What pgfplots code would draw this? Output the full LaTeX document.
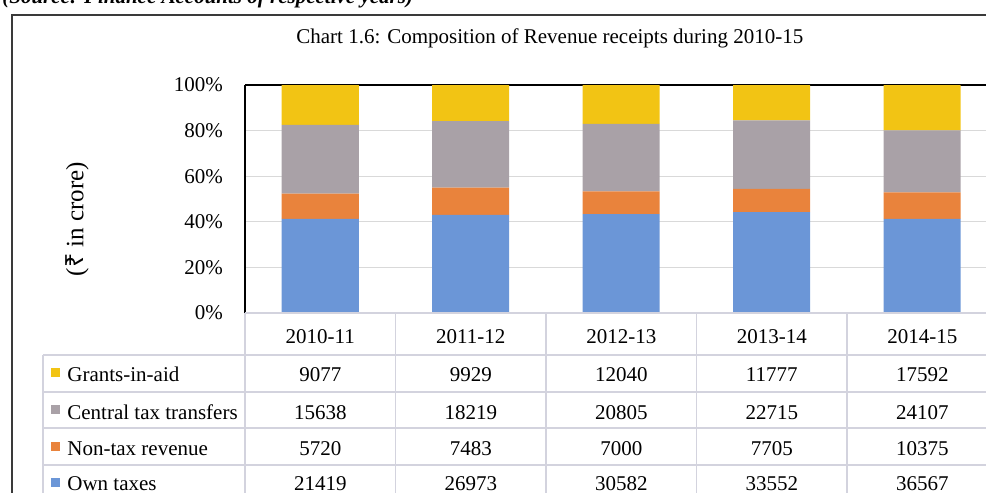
\documentclass[border=0pt]{standalone}
\usepackage{pgfplots}
\pgfplotsset{compat=1.18}
\usepackage{fontspec}
\setmainfont{Liberation Serif}
\newfontfamily\rupeefont{Noto Sans}
\definecolor{cGrant}{HTML}{F2C414}
\definecolor{cCentral}{HTML}{A9A1A7}
\definecolor{cNontax}{HTML}{E9833C}
\definecolor{cOwn}{HTML}{6B96D7}
\definecolor{cGrid}{HTML}{D9D9D9}
\definecolor{cTab}{HTML}{D3D3DE}
\definecolor{cFrame}{HTML}{3A3A3A}
\begin{document}
\begin{tikzpicture}[font=\fontsize{10.5pt}{12pt}\selectfont]
\path[use as bounding box] (0,0) rectangle (493pt,-246.5pt);
\clip (0,0) rectangle (493pt,-246.5pt);
\begin{scope}[x=0.5pt,y=-0.5pt]
  \draw[cFrame, line width=1pt] (11.5,520) -- (11.5,15.3) -- (1000,15.3);
  \node[anchor=base west, inner sep=0, font=\fontsize{10.5pt}{12pt}\selectfont\bfseries\itshape] at (2,3.5) {(Source: Finance Accounts of respective years)};
  \node[anchor=base west, inner sep=0] at (296,43) {Chart 1.6: Composition of Revenue receipts during 2010-15};
  \node[rotate=90, inner sep=0, font=\fontsize{12.5pt}{14pt}\selectfont] at (77,219) {({\rupeefont ₹} in crore)};
\end{scope}
\begin{axis}[
  at={(122.5pt,-156.5pt)}, anchor=south west,
  scale only axis, width=376.25pt, height=114pt,
  ybar stacked, bar width=38.5pt,
  xmin=-0.5, xmax=4.5, ymin=0, ymax=100,
  xtick=\empty,
  ytick={0,20,40,60,80,100},
  yticklabels={0\%,20\%,40\%,60\%,80\%,100\%},
  major tick length=0,
  ymajorgrids, grid style={cGrid, line width=0.5pt},
  axis line style={draw=none},
  yticklabel style={font=\fontsize{10.5pt}{12pt}\selectfont, xshift=-7.5pt},
  clip=false,
]
\addplot[fill=cOwn, draw=none] coordinates {(0,41.31) (1,43.09) (2,43.42) (3,44.29) (4,41.25)};
\addplot[fill=cNontax, draw=none] coordinates {(0,11.03) (1,11.95) (2,9.94) (3,10.17) (4,11.70)};
\addplot[fill=cCentral, draw=none] coordinates {(0,30.16) (1,29.10) (2,29.54) (3,29.99) (4,27.20)};
\addplot[fill=cGrant, draw=none] coordinates {(0,17.50) (1,15.86) (2,17.10) (3,15.55) (4,19.85)};
\draw[black, line width=1.3pt] (rel axis cs:0,0) -- (rel axis cs:0,1);
\draw[black, line width=0.8pt] (rel axis cs:0,1) -- (rel axis cs:1,1);
\end{axis}
\begin{scope}[x=0.5pt,y=-0.5pt]
  \draw[cTab, line width=0.6pt] (245,313) -- (1000,313);
  \foreach \yy in {355,392,428,465} \draw[cTab, line width=0.6pt] (43,\yy) -- (1000,\yy);
  \draw[cTab, line width=0.6pt] (43,355) -- (43,520);
  \foreach \xx in {245,395.5,546,696.5,847} \draw[cTab, line width=0.6pt] (\xx,313) -- (\xx,520);
  \foreach \lab [count=\i from 0] in {2010-11,2011-12,2012-13,2013-14,2014-15}
    \node[anchor=base, inner sep=0] at (320.25+150.5*\i,343) {\lab};
  \fill[cGrant] (50.5,367.5) rectangle (59.5,376.5);
  \fill[cCentral] (50.5,404.5) rectangle (59.5,413.5);
  \fill[cNontax] (50.5,441.5) rectangle (59.5,450.5);
  \fill[cOwn] (50.5,477.5) rectangle (59.5,486.5);
  \node[anchor=base west, inner sep=0] at (67,381) {Grants-in-aid};
  \node[anchor=base west, inner sep=0] at (67,419) {Central tax transfers};
  \node[anchor=base west, inner sep=0] at (67,455) {Non-tax revenue};
  \node[anchor=base west, inner sep=0] at (67,490) {Own taxes};
  \foreach \v [count=\i from 0] in {9077,9929,12040,11777,17592}
    \node[anchor=base, inner sep=0] at (320.25+150.5*\i,381) {\v};
  \foreach \v [count=\i from 0] in {15638,18219,20805,22715,24107}
    \node[anchor=base, inner sep=0] at (320.25+150.5*\i,419) {\v};
  \foreach \v [count=\i from 0] in {5720,7483,7000,7705,10375}
    \node[anchor=base, inner sep=0] at (320.25+150.5*\i,455) {\v};
  \foreach \v [count=\i from 0] in {21419,26973,30582,33552,36567}
    \node[anchor=base, inner sep=0] at (320.25+150.5*\i,490) {\v};
\end{scope}
\end{tikzpicture}
\end{document}
